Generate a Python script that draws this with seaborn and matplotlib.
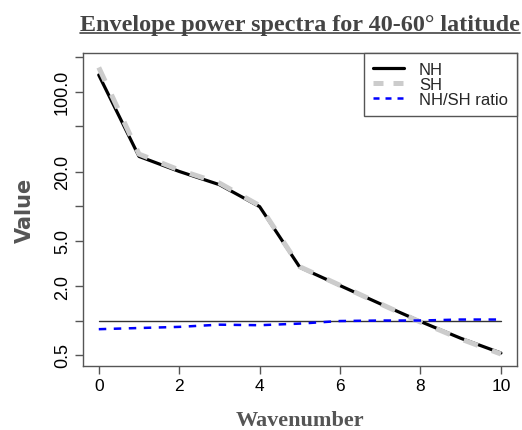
import numpy as np
import pandas as pd
import matplotlib
matplotlib.use("Agg")
import matplotlib.pyplot as plt
from matplotlib.lines import Line2D
import seaborn as sns

# ---- data ----
wavenumber = [0, 1, 2, 3, 4, 5, 6, 7, 8, 9, 10]
nh = [140, 27.2, 20.1, 15.4, 9.9, 2.92, 2.02, 1.40, 0.98, 0.70, 0.52]
sh = [163, 28.5, 20.7, 15.9, 10.1, 2.95, 2.03, 1.40, 0.97, 0.69, 0.51]
ratio = [0.84, 0.86, 0.88, 0.92, 0.91, 0.94, 0.99, 1.0, 1.0, 1.02, 1.02]
series_names = ["NH", "SH", "NH/SH ratio"]
ytick_vals = [0.5, 1, 2, 5, 10, 20, 50, 100, 200]
ytick_labels = ["0.5", "", "2.0", "5.0", "", "20.0", "", "100.0", ""]
xtick_vals = [0, 2, 4, 6, 8, 10]
title = "Envelope power spectra for 40-60° latitude"

sns.set_style("ticks")
plt.rcParams["font.family"] = ["Liberation Sans", "DejaVu Sans"]

fig = plt.figure(figsize=(5.22, 4.31), dpi=100)
ax = fig.add_axes([0.1584, 0.1478, 0.832, 0.7269])

df = pd.DataFrame({"x": wavenumber, "NH": nh, "SH": sh, "ratio": ratio})

ax.plot([wavenumber[0], wavenumber[-1]], [1, 1], color="#333333", lw=1.0, zorder=1)
sns.lineplot(data=df, x="x", y="NH", ax=ax, color="black", lw=2.3, zorder=2)
sns.lineplot(data=df, x="x", y="SH", ax=ax, color="#cccccc", lw=3.6, zorder=3)
ax.lines[-1].set_dashes((3.0, 3.0))
sns.lineplot(data=df, x="x", y="ratio", ax=ax, color="#0000ff", lw=1.8, zorder=4)
ax.lines[-1].set_dashes((3.0, 3.0))

ax.set_yscale("log")
ax.set_xlim(-0.4, 10.4)
ax.set_ylim(0.398, 218)
ax.set_yticks(ytick_vals)
ax.set_yticklabels(ytick_labels, rotation=90, va="center", fontsize=13)
ax.yaxis.set_minor_locator(matplotlib.ticker.NullLocator())
ax.set_xticks(xtick_vals)
ax.set_xticklabels([str(v) for v in xtick_vals], fontsize=12.5)
ax.tick_params(axis="both", length=5.5, width=1, color="#555555", pad=3, labelcolor="black")
for s in ax.spines.values():
    s.set_visible(True)
    s.set_color("#555555")
    s.set_linewidth(1)

ax.set_xlabel("Wavenumber", fontsize=16, fontweight="bold", color="#555555",
              family=["Liberation Serif"], labelpad=12)
ax.set_ylabel("Value", fontsize=15, fontweight="bold", color="#555555",
              family=["DejaVu Sans"], labelpad=14)

handles = [
    Line2D([], [], color="black", lw=2.3),
    Line2D([], [], color="#cccccc", lw=3.6, dashes=(2.0, 2.0)),
    Line2D([], [], color="#0000ff", lw=1.8, dashes=(2.4, 2.4)),
]
leg = ax.legend(handles, series_names, loc="upper right", borderaxespad=0,
                fontsize=12, frameon=True, fancybox=False, framealpha=1,
                handlelength=1.86, handletextpad=0.9, labelspacing=0.0,
                borderpad=0.55)
leg.get_frame().set_edgecolor("#555555")
leg.get_frame().set_linewidth(1)

t = fig.text(0.574, 1 - 31 / 431, title, ha="center", va="baseline", fontsize=17.4,
             fontweight="bold", color="#444444", family=["Liberation Serif"])
fig.canvas.draw()
bb = t.get_window_extent(renderer=fig.canvas.get_renderer())
inv = fig.transFigure.inverted()
(x0, y0), (x1, y1) = inv.transform([(bb.x0, bb.y0), (bb.x1, bb.y0)])
uy = 1 - 33.5 / 431
fig.add_artist(Line2D([x0, x1], [uy, uy], transform=fig.transFigure,
                      color="#444444", lw=1.2))

fig.savefig("out.png", dpi=100)
